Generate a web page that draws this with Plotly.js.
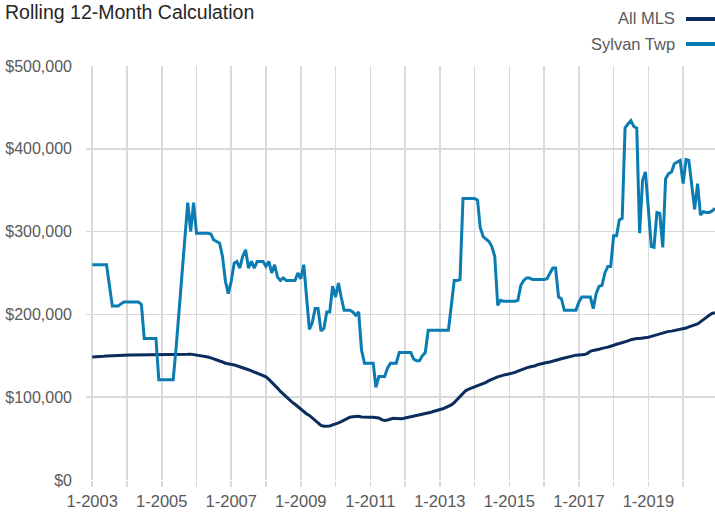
<!DOCTYPE html>
<html><head><meta charset="utf-8">
<script src="https://cdn.plot.ly/plotly-3.0.1.min.js"></script>
<style>html,body{margin:0;padding:0;background:#fff}#chart{width:715px;height:515px}</style>
</head><body><div id="chart"></div>
<script>
const chartTitle = 'Rolling 12-Month Calculation';
const seriesNames = ['All MLS', 'Sylvan Twp'];
const startYear = 2003;

// Monthly values, Jan 2003 - Dec 2020 (one row per year)
const allMLS = [
  148600,148600,148800,149000,149400,149800,150000,150500,150500,150700,150800,150800,
  150900,151000,151000,151000,151000,151000,151000,151000,151000,151000,151000,151000,
  151000,151000,151000,151000,151200,151200,151300,151200,151300,151800,152000,151500,
  150800,150200,149800,149200,148600,147500,146500,145300,144000,142500,141000,140500,
  140000,139000,138000,137000,135800,134500,133200,131800,130300,129000,127500,126000,
  124500,121500,118500,115000,111000,107000,103500,100500,97500,94000,91500,88500,
  85500,82500,80000,78000,75000,72000,68500,66000,65000,65000,65200,66500,
  67500,69000,70500,72500,74500,75800,76500,77200,77000,76200,75800,75700,
  75800,75700,75600,75000,73000,71800,72500,73800,74500,74300,74000,74000,
  74800,75500,76300,77000,77500,78200,79500,80200,80800,81800,83000,83800,
  84600,86000,87500,89000,90700,93500,97000,101500,105000,108000,109700,111000,
  112500,114000,115000,116500,118000,120000,121900,123000,124500,125800,126700,127300,
  128000,129000,130000,131500,133000,134500,135500,136500,137200,138000,139500,140500,
  141000,141800,142500,143700,145000,146000,146500,147400,148500,149500,150200,150800,
  151000,151000,151500,153000,155500,156500,157000,158000,159000,159500,160500,161500,
  163000,164000,164800,165600,166500,168000,169500,170400,170800,171000,171300,171700,
  172500,173500,174500,175700,176500,178000,179000,179500,179800,180500,181500,182600,
  183000,183500,185000,186000,186600,188500,191000,194000,196500,199000,201200,202000
];

const sylvanTwp = [
  260000,260000,260000,260000,260000,260000,235000,210000,210000,210000,213000,215000,
  215000,215000,215000,215000,215000,212000,171000,171000,171000,171000,171000,121000,
  121000,121000,121000,121000,121000,160000,205000,248000,292000,335000,300000,335000,
  298000,298000,298000,298000,298000,297000,290000,288000,286000,270000,240000,225000,
  240000,262000,264000,256000,270000,278000,256000,264000,256000,264000,264000,264000,
  258000,264000,250000,260000,245000,241000,244000,241000,241000,241000,241000,250000,
  243000,260000,220000,182000,190000,207000,207000,180000,183000,203000,203000,234000,
  221000,238000,221000,205000,205000,205000,203000,199000,203000,157000,141000,141000,
  141000,141000,112000,125000,125000,125000,135000,141000,141000,141000,154000,154000,
  154000,154000,154000,146000,144000,144000,150000,154000,181000,181000,181000,181000,
  181000,181000,181000,181000,210000,241000,241000,242000,340000,340000,340000,340000,
  340000,338000,305000,294000,291000,288000,282000,270000,211000,217000,216000,216000,
  216000,216000,216000,217000,235000,241000,244000,244000,242000,242000,242000,242000,
  242000,243000,250000,256000,256000,221000,219000,205000,205000,205000,205000,205000,
  215000,221000,221000,221000,221000,207000,225000,234000,235000,250000,258000,258000,
  295000,295000,314000,316000,425000,430000,434000,427000,425000,298000,362000,372000,
  327000,282000,281000,323000,322000,281000,364000,370000,372000,382000,384000,386000,
  358000,387000,386000,358000,327000,358000,320000,324000,323000,323000,325000,328000
];

const yTickValues = [0, 100000, 200000, 300000, 400000, 500000];
const yTickLabels = ['$0', '$100,000', '$200,000', '$300,000', '$400,000', '$500,000'];

const months = allMLS.map((_, i) => {
  const y = startYear + Math.floor(i / 12);
  const m = (i % 12) + 1;
  return y + '-' + String(m).padStart(2, '0') + '-01';
});

const navy = '#0b2d5e';
const blue = '#0a7cb2';
const grid = '#d9d9d9';
const textGray = '#595959';
const FONT = '"Liberation Sans", Arial, Helvetica, sans-serif';

const traces = [
  { x: months, y: allMLS, name: seriesNames[0], type: 'scatter', mode: 'lines',
    line: { color: navy, width: 3 }, showlegend: false },
  { x: months, y: sylvanTwp, name: seriesNames[1], type: 'scatter', mode: 'lines',
    line: { color: blue, width: 3 }, showlegend: false }
];

const L = 86, T = 66, B = 35, W = 715, H = 515;
const plotW = W - L, plotH = H - T - B;
const px = v => (v - L) / plotW;        // page x -> paper x
const py = v => (H - B - v) / plotH;    // page y -> paper y

const layout = {
  width: W, height: H,
  margin: { l: L, r: 0, t: T, b: B, pad: 0 },
  paper_bgcolor: '#ffffff', plot_bgcolor: '#ffffff',
  font: { family: FONT, color: textGray, size: 16 },
  title: { text: chartTitle, x: 5 / W, xanchor: 'left', xref: 'container',
    y: 1 - 12 / H, yanchor: 'middle', yref: 'container',
    font: { family: FONT, size: 19.5, color: '#262626' } },
  xaxis: {
    type: 'date', range: ['2002-10-28', '2020-12-01'],
    tick0: '2003-01-01', dtick: 'M24', tickformat: '%-m-%Y',
    showgrid: true, gridcolor: grid, gridwidth: 1.5,
    ticks: 'outside', ticklen: 6, tickcolor: grid, tickwidth: 1.5,
    minor: { dtick: 'M12', tick0: '2003-01-01', showgrid: true, gridcolor: grid, gridwidth: 1.5,
      ticks: 'outside', ticklen: 6, tickcolor: grid, tickwidth: 1.5 },
    showline: false, zeroline: false,
    tickfont: { family: FONT, size: 16.5, color: textGray }
  },
  yaxis: {
    range: [0, 500000], tickmode: 'array', tickvals: yTickValues, ticktext: yTickLabels,
    showgrid: true, gridcolor: grid, gridwidth: 1.5, zeroline: false, showline: false,
    ticks: '', ticklabelstandoff: 13,
    tickfont: { family: FONT, size: 16, color: textGray }
  },
  annotations: [
    { text: seriesNames[0], xref: 'paper', yref: 'paper', x: px(677), y: py(18),
      xanchor: 'right', yanchor: 'middle', showarrow: false,
      font: { family: FONT, size: 16.5, color: textGray } },
    { text: seriesNames[1], xref: 'paper', yref: 'paper', x: px(677), y: py(44),
      xanchor: 'right', yanchor: 'middle', showarrow: false,
      font: { family: FONT, size: 16.5, color: textGray } }
  ],
  shapes: [
    { type: 'line', xref: 'paper', yref: 'paper', x0: px(686), x1: px(715), y0: py(19), y1: py(19),
      line: { color: navy, width: 4 } },
    { type: 'line', xref: 'paper', yref: 'paper', x0: px(686), x1: px(715), y0: py(44), y1: py(44),
      line: { color: blue, width: 4 } }
  ]
};

Plotly.newPlot('chart', traces, layout, { displayModeBar: false, staticPlot: true });
</script>
</body></html>
